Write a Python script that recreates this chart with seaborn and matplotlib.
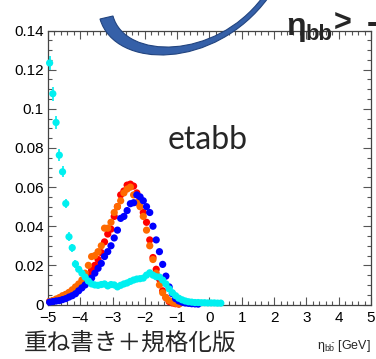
import numpy as np
import pandas as pd
import matplotlib
matplotlib.use("Agg")
import matplotlib.pyplot as plt
from matplotlib.path import Path
from matplotlib.patches import PathPatch
import seaborn as sns

# bin centres of the eta_bb histogram (0.1 wide bins starting at -5)
eta_centers = np.round(np.arange(-4.95, 0.36, 0.1), 2)

red_vals = [
    0.0015, 0.0020, 0.0025, 0.0032, 0.0040, 0.0048, 0.0058, 0.0068, 0.0080, 0.0095,
    0.0110, 0.0130, 0.0150, 0.0175, 0.0200, 0.0230, 0.0265, 0.0320, 0.0360, 0.0385,
    0.0450, 0.0500, 0.0560, 0.0580, 0.0610, 0.0615, 0.0605, 0.0570, 0.0540, 0.0470,
    0.0420, 0.0330, 0.0240, 0.0180, 0.0130, 0.0070, 0.0035, 0.0015, 0.0008, 0.0004,
    0.0002,
]
orange_vals = [
    0.0015, 0.0020, 0.0028, 0.0035, 0.0045, 0.0052, 0.0062, 0.0075, 0.0090, 0.0105,
    0.0125, 0.0160, 0.0200, 0.0245, 0.0250, 0.0270, 0.0300, 0.0390, 0.0390, 0.0420,
    0.0470, 0.0500, 0.0530, 0.0570, 0.0590, 0.0600, 0.0560, 0.0520, 0.0500, 0.0450,
    0.0380, 0.0300, 0.0230, 0.0160, 0.0100, 0.0060, 0.0035, 0.0020, 0.0012, 0.0006,
    0.0003,
]
blue_vals = [
    0.0012, 0.0015, 0.0018, 0.0020, 0.0025, 0.0030, 0.0038, 0.0045, 0.0055, 0.0070,
    0.0085, 0.0100, 0.0118, 0.0135, 0.0160, 0.0185, 0.0210, 0.0245, 0.0270, 0.0300,
    0.0340, 0.0380, 0.0440, 0.0450, 0.0480, 0.0515, 0.0520, 0.0560, 0.0550, 0.0530,
    0.0500, 0.0470, 0.0400, 0.0330, 0.0270, 0.0205, 0.0145, 0.0090, 0.0055, 0.0030,
    0.0018, 0.0012, 0.0008, 0.0006, 0.0004, 0.0003, 0.0002,
]
cyan_vals = [
    0.1234, 0.1077, 0.0930, 0.0763, 0.0678, 0.0516, 0.0346, 0.0290, 0.0207, 0.0180,
    0.0160, 0.0140, 0.0120, 0.0105, 0.0100, 0.0098, 0.0102, 0.0105, 0.0095, 0.0102,
    0.0100, 0.0090, 0.0098, 0.0105, 0.0110, 0.0118, 0.0125, 0.0130, 0.0132, 0.0135,
    0.0150, 0.0162, 0.0150, 0.0142, 0.0140, 0.0125, 0.0105, 0.0080, 0.0060, 0.0045,
    0.0032, 0.0024, 0.0018, 0.0014, 0.0012, 0.0010, 0.0010, 0.0009, 0.0009, 0.0008,
    0.0008, 0.0008, 0.0007, 0.0007,
]
# visible error bars (only the high cyan bins)
cyan_err = [0.0038, 0.0035, 0.0032, 0.0030, 0.0028, 0.0025, 0.0022, 0.0020, 0.0018, 0.0016]

series = {"red": red_vals, "orange": orange_vals, "blue": blue_vals, "cyan": cyan_vals}
colors = {"red": "#ff0000", "orange": "#ff6a00", "blue": "#0000ff", "cyan": "#00f0f0"}

y_ticks = [0, 0.02, 0.04, 0.06, 0.08, 0.1, 0.12, 0.14]
y_tick_labels = ["0", "0.02", "0.04", "0.06", "0.08", "0.1", "0.12", "0.14"]
x_ticks = [-5, -4, -3, -2, -1, 0, 1, 2, 3, 4, 5]

rows = []
for name, vals in series.items():
    for x, v in zip(eta_centers[:len(vals)], vals):
        rows.append({"eta": x, "value": v, "sample": name})
df = pd.DataFrame(rows)

sns.set_theme(style="ticks")
plt.rcParams['font.family'] = ['Liberation Sans', 'DejaVu Sans']

W, H = 376, 359
fig = plt.figure(figsize=(W / 100, H / 100), dpi=100)
ax = fig.add_axes([48 / W, 1 - 304.5 / H, (371 - 48) / W, (304.5 - 30.5) / H])

ax.vlines(eta_centers[:len(cyan_err)], np.array(cyan_vals[:len(cyan_err)]) - cyan_err,
          np.array(cyan_vals[:len(cyan_err)]) + cyan_err, color=colors["cyan"], lw=1.2, zorder=2)
sns.scatterplot(data=df, x="eta", y="value", hue="sample", palette=colors, s=27,
                edgecolor="none", legend=False, ax=ax, zorder=3, clip_on=False)

ax.set_xlim(-5, 5)
ax.set_ylim(0, 0.14)
ax.set_xticks(x_ticks)
ax.set_yticks(y_ticks)
ax.set_yticklabels(y_tick_labels)
ax.set_xticks(np.arange(-5, 5.01, 0.2), minor=True)
ax.set_yticks(np.arange(0, 0.1401, 0.005), minor=True)
ax.set_xlabel("")
ax.set_ylabel("")
ax.tick_params(which="both", direction="in", top=True, right=True, colors="#555555",
               labelcolor="black", labelsize=11)
ax.tick_params(which="major", length=6, width=0.8)
ax.tick_params(which="minor", length=3, width=0.8)
ax.tick_params(axis="x", pad=5)
ax.tick_params(axis="y", pad=3)
for sp in ax.spines.values():
    sp.set_color("#444444")
    sp.set_linewidth(0.9)

ax.text(0.495, 0.60, "etabb", transform=ax.transAxes, fontsize=23, family="Lato",
        ha="center", va="center")


def fx(px):
    return px / W


def fy(py):
    return 1 - py / H


# x axis title
fig.text(fx(371), fy(346), r"$\mathregular{\eta_{b\bar{b}}}$ [GeV]", fontsize=9,
         ha="right", va="center")

# Japanese caption
fig.text(fx(24), fy(343), "重ね書き＋規格化版", fontsize=17,
         family=["Noto Sans CJK JP", "DejaVu Sans"], ha="left", va="center")

# cut-off text at the top right
fig.text(fx(286), fy(27), "η", fontsize=23, fontweight="bold", ha="left", va="center")
fig.text(fx(306), fy(34), "bb", fontsize=16, fontweight="bold", ha="left", va="center")
fig.text(fx(334), fy(24), ">", fontsize=22, fontweight="bold", ha="left", va="center")
fig.text(fx(367), fy(24), "-", fontsize=22, fontweight="bold", ha="left", va="center")
# clipped y title remnant at the top left
fig.text(fx(18), fy(-3), "bb", fontsize=8, color="#333333", ha="left", va="center")

# blue swoosh arrow at the top
verts = [
    (100, 19), (115, 70), (215, 70), (268, -2),
    (262, -2),
    (215, 60), (125, 60), (113, 16),
    (100, 19),
]
codes = [Path.MOVETO, Path.CURVE4, Path.CURVE4, Path.CURVE4,
         Path.LINETO,
         Path.CURVE4, Path.CURVE4, Path.CURVE4,
         Path.CLOSEPOLY]
path = Path([(fx(a), fy(b)) for a, b in verts], codes)
fig.patches.append(PathPatch(path, facecolor="#3560a8", edgecolor="#22447f", lw=0.8,
                             transform=fig.transFigure, zorder=5))

fig.savefig("out.png", dpi=100)
